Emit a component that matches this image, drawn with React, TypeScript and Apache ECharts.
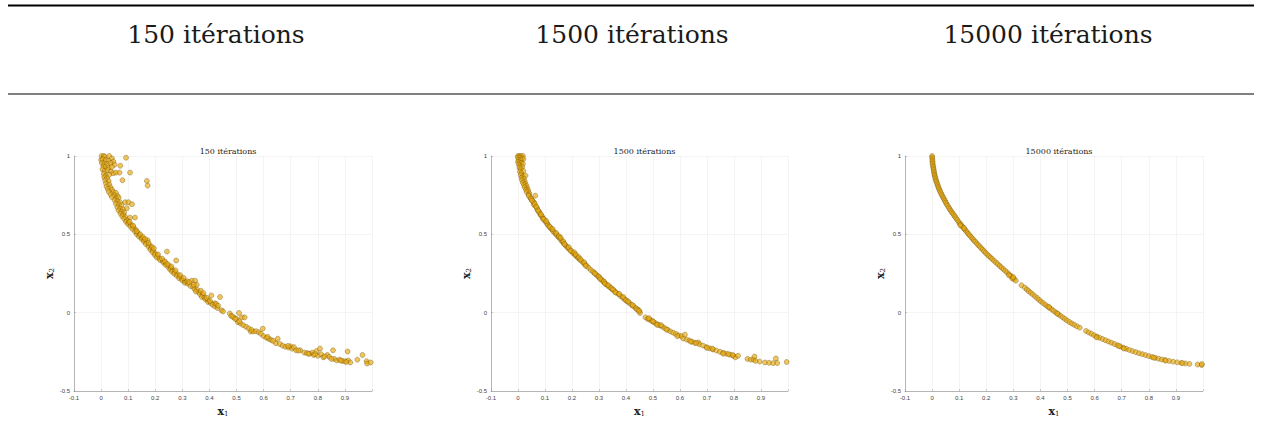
import React, { useEffect, useRef } from "react";
import * as echarts from "echarts";

const headerTitles = ["150 itérations", "1500 itérations", "15000 itérations"];
const xTicksMin = -0.1;
const xTicksMax = 1;
const yTicksMin = -0.5;
const yTicksMax = 1;

const pts150: number[][] = [
  [0.002,1.000],[0.010,1.000],[0.013,0.995],[0.030,1.000],[0.040,0.985],[0.000,0.975],[0.006,0.980],[0.018,0.975],[0.027,0.968],[0.045,0.965],
  [0.003,0.955],[0.012,0.950],[0.022,0.948],[0.035,0.955],[0.050,0.945],[0.008,0.935],[0.016,0.930],[0.028,0.925],[0.040,0.930],[0.071,0.938],
  [0.092,0.989],[0.005,0.915],[0.013,0.905],[0.024,0.910],[0.036,0.900],[0.045,0.890],[0.055,0.894],[0.068,0.894],[0.107,0.894],[0.010,0.885],
  [0.018,0.875],[0.030,0.880],[0.012,0.865],[0.022,0.858],[0.015,0.845],[0.028,0.840],[0.079,0.845],[0.169,0.841],[0.172,0.811],[0.018,0.825],
  [0.030,0.818],[0.020,0.805],[0.035,0.800],[0.025,0.790],[0.040,0.785],[0.028,0.772],[0.045,0.770],[0.055,0.765],[0.035,0.755],[0.048,0.750],
  [0.060,0.745],[0.040,0.738],[0.055,0.730],[0.065,0.735],[0.050,0.718],[0.060,0.712],[0.070,0.705],[0.089,0.705],[0.101,0.705],[0.114,0.692],
  [0.055,0.695],[0.065,0.690],[0.075,0.685],[0.095,0.667],[0.060,0.672],[0.070,0.665],[0.080,0.660],[0.065,0.652],[0.075,0.645],[0.085,0.640],
  [0.072,0.632],[0.082,0.625],[0.078,0.615],[0.090,0.610],[0.107,0.607],[0.125,0.607],[0.085,0.600],[0.095,0.590],[0.092,0.580],[0.102,0.575],
  [0.100,0.565],[0.110,0.562],[0.108,0.552],[0.120,0.545],[0.115,0.535],[0.128,0.528],[0.125,0.518],[0.135,0.510],[0.132,0.500],[0.142,0.495],
  [0.140,0.485],[0.150,0.478],[0.150,0.470],[0.160,0.465],[0.158,0.455],[0.168,0.448],[0.172,0.462],[0.165,0.438],[0.178,0.432],[0.175,0.420],
  [0.185,0.412],[0.182,0.402],[0.192,0.398],[0.190,0.385],[0.200,0.378],[0.198,0.368],[0.208,0.362],[0.206,0.352],[0.216,0.346],[0.218,0.335],
  [0.228,0.330],[0.243,0.390],[0.230,0.320],[0.240,0.315],[0.238,0.305],[0.250,0.300],[0.248,0.290],[0.258,0.285],[0.255,0.275],[0.265,0.270],
  [0.277,0.333],[0.262,0.262],[0.272,0.258],[0.270,0.248],[0.282,0.244],[0.280,0.235],[0.290,0.230],[0.288,0.220],[0.298,0.215],[0.300,0.205],
  [0.310,0.200],[0.310,0.190],[0.320,0.185],[0.335,0.204],[0.347,0.204],[0.353,0.178],[0.330,0.170],[0.340,0.165],[0.345,0.150],[0.355,0.145],
  [0.350,0.135],[0.362,0.130],[0.365,0.118],[0.375,0.112],[0.407,0.110],[0.439,0.100],[0.372,0.100],[0.382,0.096],[0.385,0.085],[0.395,0.080],
  [0.395,0.068],[0.405,0.062],[0.420,0.060],[0.412,0.050],[0.420,0.040],[0.430,0.030],[0.445,0.015],[0.450,0.008],[0.475,-0.005],[0.509,-0.002],
  [0.480,-0.020],[0.490,-0.030],[0.500,-0.040],[0.520,-0.030],[0.530,-0.030],[0.505,-0.060],[0.515,-0.070],[0.525,-0.080],[0.535,-0.090],[0.552,-0.120],
  [0.562,-0.120],[0.572,-0.118],[0.582,-0.125],[0.590,-0.135],[0.597,-0.102],[0.600,-0.150],[0.610,-0.160],[0.620,-0.168],[0.628,-0.175],[0.645,-0.195],
  [0.652,-0.166],[0.660,-0.200],[0.670,-0.210],[0.680,-0.218],[0.692,-0.222],[0.700,-0.215],[0.705,-0.230],[0.712,-0.220],[0.720,-0.240],[0.735,-0.240],
  [0.750,-0.255],[0.760,-0.258],[0.770,-0.262],[0.780,-0.255],[0.785,-0.270],[0.795,-0.245],[0.800,-0.275],[0.808,-0.229],[0.812,-0.265],[0.820,-0.285],
  [0.835,-0.270],[0.842,-0.282],[0.856,-0.240],[0.860,-0.295],[0.870,-0.305],[0.880,-0.300],[0.890,-0.308],[0.900,-0.310],[0.910,-0.248],[0.912,-0.305],
  [0.920,-0.318],[0.946,-0.300],[0.965,-0.270],[0.980,-0.310],[0.982,-0.325],[0.995,-0.318],
  [0.105,0.580],[0.118,0.556],[0.132,0.520],[0.145,0.500],[0.155,0.482],[0.162,0.470],[0.175,0.445],[0.188,0.420],[0.195,0.410],[0.210,0.372],
  [0.225,0.345],[0.235,0.328],[0.245,0.310],[0.260,0.295],[0.275,0.270],[0.292,0.240],[0.305,0.222],[0.318,0.200],[0.325,0.195],[0.342,0.178],
  [0.368,0.140],[0.378,0.125],[0.390,0.095],[0.402,0.075],[0.425,0.055],[0.432,0.045],[0.485,-0.025],[0.495,-0.040],[0.510,-0.055],[0.545,-0.100],
  [0.555,-0.110],[0.615,-0.155],[0.635,-0.180],[0.690,-0.212],[0.728,-0.242],[0.765,-0.262],[0.790,-0.265],[0.825,-0.280],[0.850,-0.295],[0.885,-0.305],
  [0.905,-0.315]
];

const pts1500: number[][] = [
  [0.000,1.000],[0.005,1.000],[0.012,1.000],[0.018,1.000],[0.000,0.990],[0.008,0.990],[0.015,0.985],[0.020,0.980],[0.002,0.975],[0.010,0.972],
  [0.000,0.962],[0.006,0.958],[0.012,0.955],[0.018,0.950],[0.003,0.945],[0.008,0.935],[0.015,0.930],[0.005,0.925],[0.010,0.915],[0.020,0.905],
  [0.007,0.900],[0.012,0.890],[0.010,0.878],[0.018,0.870],[0.028,0.875],[0.013,0.860],[0.022,0.855],[0.015,0.845],[0.025,0.838],[0.018,0.830],
  [0.028,0.822],[0.022,0.815],[0.032,0.808],[0.025,0.800],[0.035,0.792],[0.030,0.785],[0.038,0.778],[0.032,0.770],[0.042,0.762],[0.064,0.747],
  [0.040,0.752],[0.045,0.735],[0.050,0.722],[0.055,0.712],[0.060,0.702],[0.058,0.690],[0.065,0.680],[0.070,0.668],[0.072,0.655],[0.078,0.645],
  [0.080,0.632],[0.085,0.622],[0.090,0.612],[0.092,0.600],[0.098,0.592],[0.102,0.580],[0.108,0.570],[0.110,0.560],[0.115,0.552],[0.120,0.540],
  [0.125,0.532],[0.130,0.520],[0.135,0.512],[0.140,0.502],[0.145,0.492],[0.150,0.482],[0.155,0.475],[0.160,0.462],[0.165,0.452],[0.170,0.442],
  [0.175,0.432],[0.180,0.422],[0.185,0.412],[0.192,0.402],[0.198,0.392],[0.204,0.380],[0.210,0.370],[0.216,0.360],[0.222,0.350],[0.228,0.340],
  [0.235,0.330],[0.242,0.318],[0.248,0.308],[0.255,0.298],[0.262,0.286],[0.270,0.272],[0.282,0.255],[0.290,0.242],[0.296,0.232],[0.302,0.222],
  [0.308,0.212],[0.314,0.202],[0.320,0.192],[0.326,0.182],[0.332,0.172],[0.340,0.162],[0.348,0.150],[0.356,0.140],[0.364,0.128],[0.372,0.118],
  [0.380,0.106],[0.388,0.095],[0.396,0.084],[0.404,0.072],[0.412,0.062],[0.420,0.050],[0.428,0.040],[0.436,0.030],[0.444,0.020],[0.450,0.008],
  [0.452,-0.002],[0.472,-0.030],[0.480,-0.040],[0.488,-0.045],[0.495,-0.052],[0.502,-0.060],[0.510,-0.068],[0.518,-0.075],[0.526,-0.082],[0.535,-0.090],
  [0.545,-0.100],[0.555,-0.110],[0.565,-0.120],[0.575,-0.128],[0.585,-0.136],[0.595,-0.145],[0.605,-0.150],[0.612,-0.165],[0.618,-0.140],[0.625,-0.172],
  [0.635,-0.178],[0.645,-0.186],[0.655,-0.192],[0.668,-0.190],[0.672,-0.202],[0.685,-0.210],[0.698,-0.220],[0.710,-0.228],[0.722,-0.235],[0.735,-0.242],
  [0.748,-0.250],[0.760,-0.256],[0.772,-0.262],[0.785,-0.268],[0.797,-0.275],[0.805,-0.285],[0.815,-0.275],[0.850,-0.295],[0.862,-0.300],[0.872,-0.300],
  [0.876,-0.280],[0.880,-0.308],[0.895,-0.312],[0.915,-0.318],[0.930,-0.320],[0.945,-0.322],[0.955,-0.292],[0.960,-0.322],[0.995,-0.315],
  [0.095,0.598],[0.105,0.585],[0.118,0.548],[0.128,0.535],[0.142,0.508],[0.152,0.488],[0.158,0.478],[0.168,0.455],[0.172,0.438],[0.188,0.418],
  [0.195,0.395],[0.208,0.385],[0.214,0.372],[0.225,0.355],[0.232,0.340],[0.245,0.322],[0.250,0.300],[0.278,0.262],[0.285,0.250],[0.300,0.230],
  [0.305,0.215],[0.318,0.200],[0.322,0.185],[0.335,0.175],[0.345,0.158],[0.352,0.148],[0.360,0.130],[0.375,0.120],[0.390,0.100],[0.400,0.080],
  [0.408,0.072],[0.425,0.048],[0.440,0.020],[0.448,0.012],[0.485,-0.035],[0.500,-0.055],[0.515,-0.078],[0.530,-0.080],[0.550,-0.108],[0.590,-0.150],
  [0.640,-0.185],[0.660,-0.195],[0.700,-0.225],[0.720,-0.230],[0.760,-0.262],[0.780,-0.265],[0.795,-0.270],[0.040,0.745],[0.048,0.728],[0.052,0.715],
  [0.062,0.695],[0.068,0.675],[0.075,0.652],[0.085,0.628]
];

const pts15000: number[][] = [
  [0.000,1.000],[0.000,0.990],[0.001,0.980],[0.001,0.970],[0.002,0.960],[0.002,0.950],[0.003,0.940],[0.004,0.930],[0.005,0.920],[0.006,0.910],
  [0.007,0.900],[0.008,0.890],[0.009,0.880],[0.010,0.872],[0.012,0.862],[0.013,0.852],[0.015,0.842],[0.017,0.833],[0.019,0.822],[0.021,0.812],
  [0.023,0.802],[0.025,0.793],[0.028,0.782],[0.030,0.772],[0.033,0.762],[0.036,0.751],[0.039,0.741],[0.042,0.731],[0.045,0.722],[0.048,0.712],
  [0.051,0.702],[0.054,0.692],[0.058,0.682],[0.062,0.671],[0.065,0.661],[0.069,0.651],[0.073,0.641],[0.077,0.632],[0.081,0.622],[0.085,0.612],
  [0.089,0.602],[0.093,0.592],[0.098,0.580],[0.102,0.570],[0.106,0.562],[0.110,0.553],[0.115,0.543],[0.120,0.532],[0.125,0.522],[0.130,0.512],
  [0.134,0.502],[0.139,0.493],[0.144,0.483],[0.149,0.472],[0.154,0.463],[0.159,0.453],[0.165,0.442],[0.170,0.432],[0.176,0.422],[0.181,0.412],
  [0.187,0.402],[0.192,0.392],[0.198,0.381],[0.204,0.371],[0.210,0.361],[0.216,0.352],[0.222,0.342],[0.229,0.331],[0.236,0.320],[0.243,0.309],
  [0.250,0.298],[0.256,0.288],[0.263,0.278],[0.270,0.267],[0.277,0.256],[0.284,0.245],[0.291,0.235],[0.297,0.224],[0.303,0.214],[0.309,0.204],
  [0.330,0.175],[0.342,0.160],[0.350,0.148],[0.357,0.137],[0.364,0.127],[0.372,0.116],[0.380,0.104],[0.388,0.093],[0.395,0.082],[0.402,0.071],
  [0.410,0.061],[0.418,0.050],[0.426,0.040],[0.434,0.030],[0.442,0.020],[0.450,0.010],[0.458,0.000],[0.466,-0.010],[0.474,-0.020],[0.482,-0.030],
  [0.490,-0.040],[0.498,-0.050],[0.507,-0.060],[0.516,-0.069],[0.525,-0.078],[0.535,-0.087],[0.545,-0.096],[0.568,-0.117],[0.578,-0.126],[0.588,-0.135],
  [0.598,-0.144],[0.608,-0.152],[0.618,-0.160],[0.629,-0.168],[0.640,-0.176],[0.651,-0.184],[0.662,-0.192],[0.673,-0.200],[0.684,-0.208],[0.695,-0.216],
  [0.706,-0.224],[0.717,-0.231],[0.728,-0.238],[0.740,-0.245],[0.752,-0.252],[0.764,-0.259],[0.776,-0.265],[0.788,-0.271],[0.800,-0.277],[0.812,-0.283],
  [0.824,-0.289],[0.836,-0.294],[0.848,-0.299],[0.860,-0.303],[0.875,-0.308],[0.890,-0.313],[0.905,-0.317],[0.920,-0.321],[0.935,-0.324],[0.950,-0.327],
  [0.980,-0.331],[0.995,-0.334],[0.104,0.558],[0.118,0.540],[0.284,0.238],[0.296,0.218],[0.300,0.226],[0.432,0.036],[0.462,-0.006],[0.607,-0.158],
  [0.690,-0.213],[0.708,-0.229],[0.818,-0.287],[0.862,-0.306],[0.924,-0.322],[0.996,-0.328]
];

const datasets = [pts150, pts1500, pts15000];

const grids = [
  { left: 74, top: 156, width: 298, height: 235 },
  { left: 491, top: 156, width: 297, height: 235 },
  { left: 905, top: 156, width: 298, height: 235 },
];
const headerCenters = [216, 632, 1048];

export default function App() {
  const ref = useRef<HTMLDivElement>(null);
  useEffect(() => {
    if (!ref.current) return;
    const chart = echarts.init(ref.current, null, { renderer: "svg" });
    const serif = "DejaVu Serif";
    const sans = "Liberation Sans";
    const fmtX = (v: number) => (Math.abs(v - 1) < 1e-6 ? "" : String(Math.round(v * 10) / 10));
    const fmtY = (v: number) => String(Math.round(v * 10) / 10);
    const rich = {
      b: { fontFamily: serif, fontWeight: "bold", fontSize: 11, color: "#222", lineHeight: 12 },
      s: { fontFamily: serif, fontSize: 7, color: "#222", verticalAlign: "bottom", lineHeight: 12 },
    };
    const option: any = {
      animation: false,
      backgroundColor: "#fff",
      title: grids.map((g, i) => ({
        text: headerTitles[i],
        left: g.left + g.width / 2,
        top: 142,
        textAlign: "center",
        textStyle: { fontFamily: serif, fontSize: 8, fontWeight: "normal", color: "#222" },
      })),
      grid: grids.map((g) => ({ ...g, containLabel: false })),
      xAxis: grids.map((_, i) => ({
        gridIndex: i,
        type: "value",
        min: xTicksMin,
        max: xTicksMax,
        interval: 0.1,
        name: "{b|x}{s|1}",
        nameLocation: "middle",
        nameGap: 11,
        nameTextStyle: { rich },
        axisLine: { show: true, onZero: false, lineStyle: { color: "#999", width: 0.7 } },
        axisTick: { show: true, inside: true, length: 2, lineStyle: { color: "#999", width: 0.5 } },
        axisLabel: { fontFamily: sans, fontSize: 6, color: "#444", margin: 4, formatter: fmtX },
        splitLine: { show: true, lineStyle: { color: "#ededed", width: 0.6 } },
      })),
      yAxis: grids.map((_, i) => ({
        gridIndex: i,
        type: "value",
        min: yTicksMin,
        max: yTicksMax,
        interval: 0.5,
        name: "{b|x}{s|2}",
        nameLocation: "middle",
        nameGap: 18,
        nameTextStyle: { rich },
        axisLine: { show: true, onZero: false, lineStyle: { color: "#999", width: 0.7 } },
        axisTick: { show: true, inside: true, length: 2, lineStyle: { color: "#999", width: 0.5 } },
        axisLabel: { fontFamily: sans, fontSize: 6, color: "#444", margin: 4, formatter: fmtY },
        splitLine: { show: true, lineStyle: { color: "#ededed", width: 0.6 } },
      })),
      series: datasets.map((d, i) => ({
        type: "scatter",
        xAxisIndex: i,
        yAxisIndex: i,
        data: d,
        symbolSize: 5,
        itemStyle: {
          color: "rgba(232,170,20,0.85)",
          borderColor: "rgba(95,68,0,0.7)",
          borderWidth: 0.6,
        },
      })),
      graphic: [
        { type: "rect", shape: { x: 8, y: 4.5, width: 1246, height: 2 }, style: { fill: "#000" } },
        { type: "rect", shape: { x: 8, y: 93.5, width: 1246, height: 1 }, style: { fill: "#000" } },
        ...headerTitles.map((t, i) => ({
          type: "text",
          x: headerCenters[i],
          y: 34,
          style: {
            text: t,
            fontFamily: serif,
            fontSize: 25,
            fill: "#1a1a1a",
            textAlign: "center",
            textVerticalAlign: "middle",
          },
        })),
      ],
    };
    chart.setOption(option);
    return () => chart.dispose();
  }, []);
  return (
    <div
      ref={ref}
      style={{ position: "absolute", left: 0, top: 0, width: 1261, height: 437 }}
    />
  );
}
